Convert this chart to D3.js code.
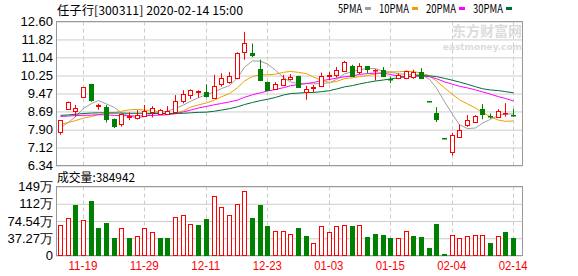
<!DOCTYPE html>
<html lang="zh">
<head>
<meta charset="UTF-8">
<title>任子行 日K</title>
<style>
  body { margin: 0; background: #fff; }
  svg { display: block; }
  .tick text { font: 13px "Liberation Sans", Arial, sans-serif; fill: #000; }
  .xaxis .tick text { font: 12px "Liberation Sans", Arial, sans-serif; fill: #f00; }
  .cap { font: 12px "Noto Sans CJK SC", sans-serif; fill: #000; }
</style>
</head>
<body>
<script src="https://d3js.org/d3.v7.min.js"></script>
<script>
const dates = ["2019-11-14","2019-11-15","2019-11-18","2019-11-19","2019-11-20","2019-11-21","2019-11-22","2019-11-25","2019-11-26","2019-11-27",
  "2019-11-28","2019-11-29","2019-12-02","2019-12-03","2019-12-04","2019-12-05","2019-12-06","2019-12-09","2019-12-10","2019-12-11",
  "2019-12-12","2019-12-13","2019-12-16","2019-12-17","2019-12-18","2019-12-19","2019-12-20","2019-12-23","2019-12-24","2019-12-25",
  "2019-12-26","2019-12-27","2019-12-30","2019-12-31","2020-01-02","2020-01-03","2020-01-06","2020-01-07","2020-01-08","2020-01-09",
  "2020-01-10","2020-01-13","2020-01-14","2020-01-15","2020-01-16","2020-01-17","2020-01-20","2020-01-21","2020-01-22","2020-01-23",
  "2020-02-03","2020-02-04","2020-02-05","2020-02-06","2020-02-07","2020-02-10","2020-02-11","2020-02-12","2020-02-13","2020-02-14"];

const open  = [7.77,8.82,8.68,9.30,9.89,8.89,8.88,8.35,8.14,8.47, 8.41,8.50,8.65,8.59,8.59,8.65,9.11,9.38,9.51,9.52,
  9.26,9.87,9.99,10.14,11.30,11.24,10.54,9.96,9.67,9.87, 10.09,10.21,9.52,9.70,9.81,10.24,10.28,10.47,10.67,10.38,
  10.66,10.48,10.48,10.12,10.14,10.14,10.21,10.40,9.14,8.63, 7.52,6.90,7.61,8.09,8.21,8.78,8.50,8.47,8.59,8.54];
const high  = [8.30,9.12,8.97,9.74,9.89,9.03,8.97,8.38,8.60,8.65, 8.75,8.97,8.92,8.79,8.92,9.40,9.61,9.65,9.61,9.87,
  10.28,10.35,10.40,11.26,12.15,11.64,10.94,9.99,9.96,10.28, 10.31,10.24,9.80,9.84,10.38,10.40,10.62,10.89,10.72,10.79,
  10.66,10.53,10.62,10.21,10.35,10.47,10.50,10.57,9.14,8.88, 7.52,7.76,8.12,8.53,8.53,9.01,8.60,8.79,9.05,8.79];
const low   = [7.68,8.79,8.46,9.30,9.11,8.76,8.21,7.97,8.03,8.31, 8.34,8.46,8.43,8.56,8.56,8.60,9.04,9.23,9.29,9.29,
  9.23,9.77,9.89,10.09,10.94,11.05,10.08,9.62,9.67,9.84, 10.03,9.73,9.20,9.52,9.81,10.06,10.16,10.43,10.24,10.31,
  10.35,10.03,10.21,9.92,10.09,10.09,10.11,10.11,9.14,8.23, 7.52,6.77,7.58,8.02,8.19,8.35,8.38,8.41,8.46,8.46];
const close = [8.30,9.11,8.82,9.74,9.19,8.95,8.37,8.06,8.56,8.50, 8.53,8.70,8.82,8.76,8.70,9.14,9.43,9.61,9.57,9.33,
  9.78,10.14,10.24,11.23,11.67,11.16,10.08,9.62,9.87,10.11, 10.18,9.73,9.67,9.74,10.24,10.27,10.50,10.86,10.24,10.65,
  10.53,10.50,10.21,10.10,10.28,10.45,10.42,10.16,9.14,8.35, 7.52,7.65,7.90,8.30,8.49,8.57,8.48,8.73,8.61,8.52];
// 成交量, 万手
const volume = [65.5,80.0,109.1,75.7,117.9,59.7,69.8,37.1,58.9,37.1, 42.9,58.9,51.7,37.1,37.1,82.2,86.6,69.1,65.5,78.6,
  128.1,104.0,86.6,110.6,139.7,80.8,109.1,63.3,53.8,53.8, 47.3,58.9,41.5,27.6,64.8,51.7,64.8,66.9,63.3,66.9,
  39.3,47.3,43.7,37.1,38.6,53.8,41.5,39.3,15.3,67.7, 2.2,45.1,38.6,42.9,45.1,45.1,27.6,42.9,50.2,38.4942];

// MA values before a full window is available
const ma5Head  = [7.98,8.22,8.46,8.83];
const ma10Head = [8.13,8.21,8.29,8.40,8.47,8.55,8.60,8.64,8.70];
const ma20Head = [8.47,8.49,8.51,8.52,8.53,8.55,8.54,8.52,8.51,8.50,8.49,8.50,8.52,8.53,8.55,8.59,8.67,8.75,8.84];
const ma30Head = [8.52,8.54,8.57,8.60,8.62,8.63,8.63,8.62,8.62,8.61,8.61,8.61,8.60,8.60,8.60,8.60,8.61,8.63,8.65,8.66,
  8.70,8.75,8.81,8.89,8.99,9.08,9.16,9.22,9.30];

const priceTicks = [6.34,7.12,7.90,8.69,9.47,10.25,11.04,11.82,12.60];
const volTicks = [0,37.27,74.54,111.81,149.08];
const volTickLabels = ["0","37.27万","74.54万","112万","149万"];
const xTickDates = ["2019-11-19","2019-11-29","2019-12-11","2019-12-23","2020-01-03","2020-01-15","2020-02-04","2020-02-14"];

const maSeries = [
  {name: "5PMA", n: 5, head: ma5Head, color: "#a0a0a0"},
  {name: "10PMA", n: 10, head: ma10Head, color: "#f0a000"},
  {name: "20PMA", n: 20, head: ma20Head, color: "#ff00ff"},
  {name: "30PMA", n: 30, head: ma30Head, color: "#006f35"}
];

const width = 578, height = 276;
const left = 56, right = 522;
const red = "#ff0000", green = "#008000";

// width of a string in a 12px half-width/full-width font
const textWidth = s => Array.from(s).reduce((w, c) => w + (c.charCodeAt(0) > 255 ? 12 : 6), 0);

const svg = d3.select("body").append("svg")
    .attr("width", width).attr("height", height)
    .attr("viewBox", [0, 0, width, height]);

const x = d3.scaleBand().domain(dates).range([left, 517]);
const cx = d => Math.round(x(d) + x.bandwidth() / 2) + 0.5;
const y = d3.scaleLinear().domain([6.34, 12.60]).range([165.5, 21.5]);
const yv = d3.scaleLinear().domain([0, 149.08]).range([255.5, 186.5]);

const up = i => close[i] > open[i] || (close[i] === open[i] && i > 0 && close[i] >= close[i - 1]);
const volUp = i => i === 0 ? close[i] >= open[i] : close[i] >= close[i - 1];

// watermark
const wm = svg.append("g").attr("fill", "#dcdcdc");
wm.append("text").attr("x", 522).attr("y", 36).attr("text-anchor", "end")
  .style("font", "bold 14px 'Noto Sans CJK SC', sans-serif").text("东方财富网");
wm.append("text").attr("x", 522).attr("y", 50).attr("text-anchor", "end")
  .style("font", "bold 9px 'DejaVu Sans', sans-serif").text("eastmoney.com");

// horizontal grid + y labels
svg.append("g").attr("class", "yaxis")
  .attr("transform", `translate(${left},0)`)
  .call(d3.axisLeft(y).tickValues(priceTicks).tickFormat(d3.format(".2f")).tickSizeInner(-(right - left)).tickSizeOuter(0).tickPadding(3))
  .call(g => g.select(".domain").remove())
  .call(g => g.selectAll(".tick line").attr("stroke", "#cccccc"));

svg.append("g").attr("class", "vaxis")
  .attr("transform", `translate(${left},0)`)
  .call(d3.axisLeft(yv).tickValues(volTicks).tickFormat((d, i) => volTickLabels[i]).tickSizeInner(-(right - left)).tickSizeOuter(0).tickPadding(3))
  .call(g => g.select(".domain").remove())
  .call(g => g.selectAll(".tick line").attr("stroke", "#cccccc"));

// vertical dashed grid
[[21.5, 165.5], [186.5, 255.5]].forEach(([t, b]) => {
  svg.append("g").selectAll("line").data(xTickDates).join("line")
    .attr("x1", cx).attr("x2", cx).attr("y1", t).attr("y2", b)
    .attr("stroke", "#cccccc").attr("stroke-dasharray", "4,3");
});

// frames
svg.append("rect").attr("x", left + 0.5).attr("y", 21.5).attr("width", right - left).attr("height", 144)
  .attr("fill", "none").attr("stroke", "#999");
svg.append("rect").attr("x", left + 0.5).attr("y", 186.5).attr("width", right - left).attr("height", 69)
  .attr("fill", "none").attr("stroke", "#999");

// x labels
svg.append("g").attr("class", "xaxis")
  .attr("transform", "translate(0,255)")
  .call(d3.axisBottom(x).tickValues(xTickDates).tickFormat(d => d.slice(5)).tickSize(0).tickPadding(6))
  .call(g => g.select(".domain").remove())
  .call(g => g.selectAll(".tick text").attr("textLength", 29).attr("lengthAdjust", "spacingAndGlyphs"));

// MA lines
maSeries.forEach(s => {
  const vals = close.map((c, i) => i < s.n - 1 ? s.head[i] : d3.mean(close.slice(i - s.n + 1, i + 1)));
  svg.append("path")
    .datum(vals)
    .attr("fill", "none")
    .attr("stroke", s.color)
    .attr("stroke-width", 1)
    .attr("d", d3.line().x((d, i) => cx(dates[i])).y(d => y(d)));
});

// candles
const idx = d3.range(dates.length);
const candle = svg.append("g").selectAll("g").data(idx).join("g");
candle.append("line")
  .attr("x1", i => cx(dates[i])).attr("x2", i => cx(dates[i]))
  .attr("y1", i => y(high[i])).attr("y2", i => y(low[i]))
  .attr("stroke", i => up(i) ? red : green);
candle.append("rect")
  .attr("x", i => cx(dates[i]) - 2)
  .attr("y", i => Math.round(y(Math.max(open[i], close[i]))) + 0.5)
  .attr("width", 4)
  .attr("height", i => Math.max(0.5, Math.round(Math.abs(y(open[i]) - y(close[i])))))
  .attr("fill", i => up(i) ? "#fff" : green)
  .attr("stroke", i => up(i) ? red : green);

// volume bars
svg.append("g").selectAll("rect").data(idx).join("rect")
  .attr("x", i => cx(dates[i]) - 2)
  .attr("y", i => Math.round(yv(volume[i])) + 0.5)
  .attr("width", 4)
  .attr("height", i => 255 - Math.round(yv(volume[i])))
  .attr("fill", i => volUp(i) ? "#fff" : green)
  .attr("stroke", i => volUp(i) ? red : green);

// captions
const caption = (tx, ty, s) => svg.append("text").attr("class", "cap").attr("x", tx).attr("y", ty)
  .attr("textLength", textWidth(s)).attr("lengthAdjust", "spacingAndGlyphs").text(s);
caption(57, 15, "任子行[300311] 2020-02-14 15:00");
caption(57, 182, "成交量:" + Math.round(volume[volume.length - 1] * 10000));

// legend
let lx = 338;
maSeries.forEach(s => {
  const w = textWidth(s.name);
  caption(lx, 13, s.name);
  svg.append("rect").attr("x", lx + w + 3).attr("y", 7).attr("width", 6).attr("height", 3).attr("fill", s.color);
  lx += w + 17;
});
</script>
</body>
</html>
